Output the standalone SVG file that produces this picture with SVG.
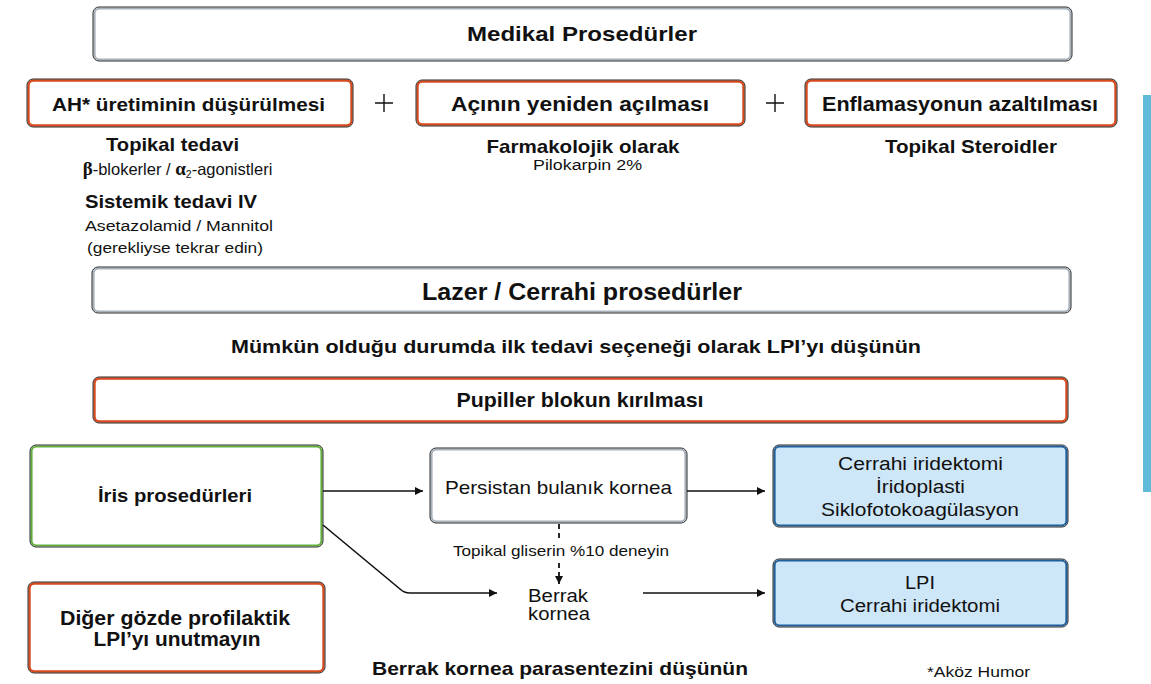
<svg xmlns="http://www.w3.org/2000/svg" width="1151" height="684" viewBox="0 0 1151 684">
  <style>
    text { font-family: "Liberation Sans", Arial, sans-serif; fill: #111; }
    .b { font-weight: bold; }
    .mid { text-anchor: middle; }
    .edge { fill: none; stroke: #2b2b2b; stroke-width: 1; }
    .grey { fill: #fff; stroke: #a7b1bb; stroke-width: 2.2; }
    .orange { fill: #fff; stroke: #d64a1e; stroke-width: 2.4; }
    .green { fill: #fff; stroke: #62b03c; stroke-width: 2.2; }
    .blue { fill: #cde6f8; stroke: #1f5f9c; stroke-width: 2.2; }
    .wire { fill: none; stroke: #111; stroke-width: 1.6; }
    .dash { fill: none; stroke: #111; stroke-width: 1.8; stroke-dasharray: 5 4; }
    .plus { stroke: #111; stroke-width: 1.4; }
  </style>
  <defs>
    <marker id="arrow" viewBox="0 0 10 10" refX="10" refY="5" markerWidth="9" markerHeight="8" markerUnits="userSpaceOnUse" orient="auto">
      <path d="M0,0 L10,5 L0,10 z" fill="#111"/>
    </marker>
  </defs>

  <rect id="side-bar" x="1143" y="95" width="8" height="397" fill="#5fbbd8"/>

  <g id="medikal">
    <rect class="grey" x="94.5" y="8.5" width="976" height="51" rx="5"/>
    <rect class="edge" x="93" y="7" width="979" height="54" rx="6"/>
    <text class="b mid" x="582" y="41" font-size="21" textLength="230" lengthAdjust="spacingAndGlyphs">Medikal Prosedürler</text>
  </g>

  <g id="ah-uretimi">
    <rect class="orange" x="28.5" y="80.5" width="323" height="45" rx="5"/>
    <rect class="edge" x="27" y="79" width="326" height="48" rx="6"/>
    <text class="b mid" x="188.5" y="111" font-size="19" textLength="273" lengthAdjust="spacingAndGlyphs">AH* üretiminin düşürülmesi</text>
  </g>
  <g id="plus-signs">
    <path class="plus" d="M375,103 H393 M384,94 V112"/>
    <path class="plus" d="M766,103 H784 M775,94 V112"/>
  </g>
  <g id="aci-acilmasi">
    <rect class="orange" x="417.5" y="81.5" width="326" height="43" rx="5"/>
    <rect class="edge" x="416" y="80" width="329" height="46" rx="6"/>
    <text class="b mid" x="580" y="111" font-size="19.5" textLength="258" lengthAdjust="spacingAndGlyphs">Açının yeniden açılması</text>
  </g>
  <g id="enflamasyon">
    <rect class="orange" x="806.5" y="80.5" width="309" height="45" rx="5"/>
    <rect class="edge" x="805" y="79" width="312" height="48" rx="6"/>
    <text class="b mid" x="960" y="111" font-size="19.5" textLength="276" lengthAdjust="spacingAndGlyphs">Enflamasyonun azaltılması</text>
  </g>

  <g id="ah-details">
    <text class="b mid" x="172.5" y="151" font-size="19" textLength="133" lengthAdjust="spacingAndGlyphs">Topikal tedavi</text>
    <text class="mid" x="177.5" y="175" font-size="16.5"><tspan font-family="Liberation Serif, serif" font-weight="bold" font-size="19">β</tspan>-blokerler / <tspan font-family="Liberation Serif, serif" font-weight="bold" font-size="19">α</tspan><tspan font-size="10.5" dy="3">2</tspan><tspan dy="-3">-agonistleri</tspan></text>
    <text class="b mid" x="171" y="208" font-size="19" textLength="172" lengthAdjust="spacingAndGlyphs">Sistemik tedavi IV</text>
    <text class="mid" x="179" y="231" font-size="15.5" textLength="188" lengthAdjust="spacingAndGlyphs">Asetazolamid / Mannitol</text>
    <text class="mid" x="175" y="253" font-size="15.5" textLength="176" lengthAdjust="spacingAndGlyphs">(gerekliyse tekrar edin)</text>
  </g>
  <g id="aci-details">
    <text class="b mid" x="583" y="153" font-size="19" textLength="193" lengthAdjust="spacingAndGlyphs">Farmakolojik olarak</text>
    <text class="mid" x="587.5" y="170" font-size="15.5" textLength="109" lengthAdjust="spacingAndGlyphs">Pilokarpin 2%</text>
  </g>
  <g id="enflamasyon-details">
    <text class="b mid" x="971" y="153" font-size="19" textLength="172" lengthAdjust="spacingAndGlyphs">Topikal Steroidler</text>
  </g>

  <g id="lazer-cerrahi">
    <rect class="grey" x="93.5" y="268.5" width="976" height="43" rx="5"/>
    <rect class="edge" x="92" y="267" width="979" height="46" rx="6"/>
    <text class="b mid" x="582" y="300" font-size="24" textLength="320" lengthAdjust="spacingAndGlyphs">Lazer / Cerrahi prosedürler</text>
  </g>
  <text id="lpi-note" class="b mid" x="576" y="353" font-size="19" textLength="690" lengthAdjust="spacingAndGlyphs">Mümkün olduğu durumda ilk tedavi seçeneği olarak LPI’yı düşünün</text>

  <g id="pupiller-blok">
    <rect class="orange" x="94.5" y="378.5" width="972" height="43" rx="5"/>
    <rect class="edge" x="93" y="377" width="975" height="46" rx="6"/>
    <text class="b mid" x="580" y="407" font-size="20.5" textLength="247" lengthAdjust="spacingAndGlyphs">Pupiller blokun kırılması</text>
  </g>

  <g id="iris-prosedurleri">
    <rect class="green" x="31.5" y="446.5" width="290" height="99" rx="5"/>
    <rect class="edge" x="30" y="445" width="293" height="102" rx="6"/>
    <text class="b mid" x="175" y="502" font-size="18.5" textLength="154" lengthAdjust="spacingAndGlyphs">İris prosedürleri</text>
  </g>
  <g id="diger-goz">
    <rect class="orange" x="29.5" y="583.5" width="294" height="88" rx="5"/>
    <rect class="edge" x="28" y="582" width="297" height="91" rx="6"/>
    <text class="b mid" x="175" y="625" font-size="19.5" textLength="230" lengthAdjust="spacingAndGlyphs">Diğer gözde profilaktik</text>
    <text class="b mid" x="177" y="646" font-size="19.5" textLength="167" lengthAdjust="spacingAndGlyphs">LPI’yı unutmayın</text>
  </g>
  <g id="persistan-kornea">
    <rect class="grey" x="431.5" y="449.5" width="254" height="72" rx="5"/>
    <rect class="edge" x="430" y="448" width="257" height="75" rx="6"/>
    <text class="mid" x="558.5" y="494" font-size="18.5" textLength="227" lengthAdjust="spacingAndGlyphs">Persistan bulanık kornea</text>
  </g>
  <g id="cerrahi-secenekler">
    <rect class="blue" x="774.5" y="446.5" width="292" height="79" rx="5"/>
    <rect class="edge" x="773" y="445" width="295" height="82" rx="6"/>
    <text class="mid" x="920.5" y="470" font-size="18" textLength="165" lengthAdjust="spacingAndGlyphs">Cerrahi iridektomi</text>
    <text class="mid" x="920.5" y="493" font-size="18" textLength="89" lengthAdjust="spacingAndGlyphs">İridoplasti</text>
    <text class="mid" x="920" y="516" font-size="18" textLength="198" lengthAdjust="spacingAndGlyphs">Siklofotokoagülasyon</text>
  </g>
  <g id="lpi-secenekler">
    <rect class="blue" x="774.5" y="560.5" width="292" height="65" rx="5"/>
    <rect class="edge" x="773" y="559" width="295" height="68" rx="6"/>
    <text class="mid" x="920" y="589" font-size="18" textLength="30" lengthAdjust="spacingAndGlyphs">LPI</text>
    <text class="mid" x="920" y="612" font-size="18" textLength="160" lengthAdjust="spacingAndGlyphs">Cerrahi iridektomi</text>
  </g>
  <g id="berrak-kornea">
    <text class="mid" x="558" y="602" font-size="17.5" textLength="60" lengthAdjust="spacingAndGlyphs">Berrak</text>
    <text class="mid" x="559" y="620" font-size="17.5" textLength="62" lengthAdjust="spacingAndGlyphs">kornea</text>
  </g>

  <g id="connectors">
    <path class="wire" d="M323,491 H423" marker-end="url(#arrow)"/>
    <path class="wire" d="M687,491 H765" marker-end="url(#arrow)"/>
    <path class="wire" d="M323,525 L400,589 Q404,593 410,593 H497" marker-end="url(#arrow)"/>
    <path class="wire" d="M643,593 H765" marker-end="url(#arrow)"/>
    <path class="dash" d="M559,524 V541"/>
    <path class="dash" d="M559,563 V584" marker-end="url(#arrow)"/>
    <text class="mid" x="561" y="556" font-size="15" textLength="216" lengthAdjust="spacingAndGlyphs">Topikal gliserin %10 deneyin</text>
  </g>

  <text id="parasentez" class="b mid" x="560" y="675" font-size="19" textLength="376" lengthAdjust="spacingAndGlyphs">Berrak kornea parasentezini düşünün</text>
  <text id="dipnot" x="927" y="677" font-size="15" textLength="103" lengthAdjust="spacingAndGlyphs">*Aköz Humor</text>
</svg>
